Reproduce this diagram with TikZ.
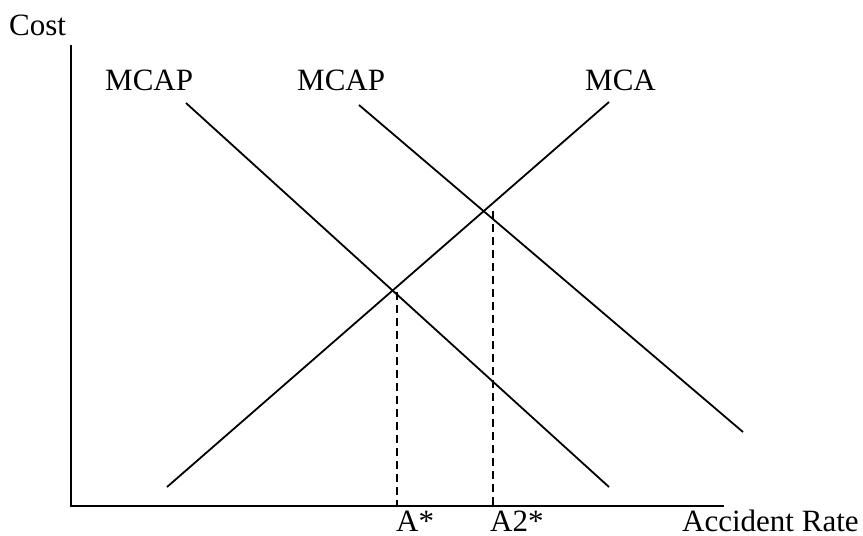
\documentclass[tikz,border=0pt]{standalone}
\usepackage{fontspec}
\setmainfont{Liberation Serif}
\begin{document}
\begin{tikzpicture}[x=1pt,y=-1pt,
  curve/.style={line width=1.8pt, line cap=butt},
  axis/.style={line width=1.9pt},
  guide/.style={line width=1.7pt, dash pattern=on 8pt off 5pt},
  lbl/.style={inner sep=0pt, anchor=base west, font=\fontsize{31}{36}\selectfont}]
\useasboundingbox (0,0) rectangle (863,536);
% axes
\coordinate (ytop) at (71,45);
\coordinate (orig) at (71,506);
\coordinate (xend) at (724,506);
\draw[axis] (ytop) -- (orig) -- (xend);
% curves
\coordinate (p1a) at (186,103);
\coordinate (p1b) at (609,487);
\coordinate (p2a) at (359,105);
\coordinate (p2b) at (743,432);
\coordinate (ma) at (167,487);
\coordinate (mb) at (609,102);
\draw[curve] (p1a) -- (p1b);
\draw[curve] (p2a) -- (p2b);
\draw[curve] (ma) -- (mb);
% guides
\coordinate (g1t) at (397,292);
\coordinate (g1b) at (397,506);
\coordinate (g2t) at (493,211);
\coordinate (g2b) at (493,506);
\draw[guide] (g1t) -- (g1b);
\draw[guide] (g2t) -- (g2b);
% labels
\node[lbl] (cost) at (9,35) {Cost};
\node[lbl] (l1) at (105,90) {MCAP};
\node[lbl] (l2) at (297,90) {MCAP};
\node[lbl] (l3) at (585,90) {MCA};
\node[lbl] (la) at (396,531) {A*};
\node[lbl] (la2) at (490,531) {A2*};
\node[lbl] (lx) at (682,531) {Accident Rate};
\end{tikzpicture}
\end{document}
